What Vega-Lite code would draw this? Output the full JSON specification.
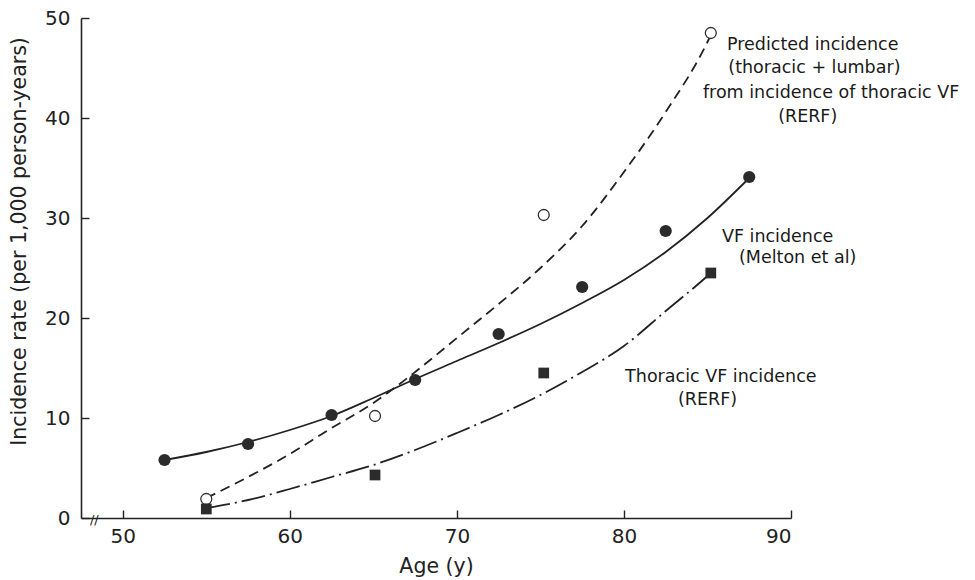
{
  "$schema": "https://vega.github.io/schema/vega-lite/v6.json",
  "autosize": "none",
  "width": 710,
  "height": 500,
  "padding": {"left": 81, "top": 18, "right": 184, "bottom": 62},
  "background": "white",
  "config": {
    "view": {"stroke": null},
    "font": "DejaVu Sans",
    "axis": {
      "grid": false,
      "domainColor": "#222",
      "domainWidth": 1.6,
      "tickColor": "#222",
      "tickWidth": 1.4,
      "tickSize": -8,
      "labelColor": "#222",
      "labelFont": "DejaVu Sans",
      "labelFontSize": 20,
      "titleColor": "#222",
      "titleFont": "DejaVu Sans",
      "titleFontSize": 20.5,
      "titleFontWeight": "normal"
    }
  },
  "datasets": {
    "points": [
      {"series": "melton", "x": 52.5, "y": 5.8},
      {"series": "melton", "x": 57.5, "y": 7.4},
      {"series": "melton", "x": 62.5, "y": 10.3},
      {"series": "melton", "x": 67.5, "y": 13.8},
      {"series": "melton", "x": 72.5, "y": 18.4},
      {"series": "melton", "x": 77.5, "y": 23.1},
      {"series": "melton", "x": 82.5, "y": 28.7},
      {"series": "melton", "x": 87.5, "y": 34.1},
      {"series": "predicted", "x": 55.0, "y": 1.9},
      {"series": "predicted", "x": 65.1, "y": 10.2},
      {"series": "predicted", "x": 75.2, "y": 30.3},
      {"series": "predicted", "x": 85.2, "y": 48.5},
      {"series": "thoracic", "x": 55.0, "y": 0.9},
      {"series": "thoracic", "x": 65.1, "y": 4.3},
      {"series": "thoracic", "x": 75.2, "y": 14.5},
      {"series": "thoracic", "x": 85.2, "y": 24.5}
    ],
    "curves": [
      {"series": "melton", "x": 52.5, "y": 5.8},
      {"series": "melton", "x": 55, "y": 6.6},
      {"series": "melton", "x": 57.5, "y": 7.6},
      {"series": "melton", "x": 60, "y": 8.8},
      {"series": "melton", "x": 62.5, "y": 10.2},
      {"series": "melton", "x": 65, "y": 12.0},
      {"series": "melton", "x": 67.5, "y": 13.9},
      {"series": "melton", "x": 70, "y": 15.7},
      {"series": "melton", "x": 72.5, "y": 17.5},
      {"series": "melton", "x": 75, "y": 19.4},
      {"series": "melton", "x": 77.5, "y": 21.5},
      {"series": "melton", "x": 80, "y": 23.8},
      {"series": "melton", "x": 82.5, "y": 26.6},
      {"series": "melton", "x": 85, "y": 30.0},
      {"series": "melton", "x": 87.5, "y": 34.0},
      {"series": "predicted", "x": 55, "y": 2.0},
      {"series": "predicted", "x": 57.5, "y": 4.1},
      {"series": "predicted", "x": 60, "y": 6.4},
      {"series": "predicted", "x": 62.5, "y": 9.0},
      {"series": "predicted", "x": 65, "y": 11.5},
      {"series": "predicted", "x": 67.5, "y": 14.6},
      {"series": "predicted", "x": 70, "y": 18.0},
      {"series": "predicted", "x": 72.5, "y": 21.4},
      {"series": "predicted", "x": 75, "y": 25.0},
      {"series": "predicted", "x": 77.5, "y": 29.2},
      {"series": "predicted", "x": 80, "y": 34.6},
      {"series": "predicted", "x": 82.5, "y": 40.6},
      {"series": "predicted", "x": 85, "y": 47.6},
      {"series": "predicted", "x": 85.2, "y": 48.3},
      {"series": "thoracic", "x": 55, "y": 1.0},
      {"series": "thoracic", "x": 57.5, "y": 1.8},
      {"series": "thoracic", "x": 60, "y": 2.9},
      {"series": "thoracic", "x": 62.5, "y": 4.1},
      {"series": "thoracic", "x": 65, "y": 5.3},
      {"series": "thoracic", "x": 67.5, "y": 6.8},
      {"series": "thoracic", "x": 70, "y": 8.5},
      {"series": "thoracic", "x": 72.5, "y": 10.3},
      {"series": "thoracic", "x": 75, "y": 12.3},
      {"series": "thoracic", "x": 77.5, "y": 14.6},
      {"series": "thoracic", "x": 80, "y": 17.2},
      {"series": "thoracic", "x": 82.5, "y": 20.7},
      {"series": "thoracic", "x": 85, "y": 24.2},
      {"series": "thoracic", "x": 85.2, "y": 24.5}
    ],
    "labels": [
      {"x": 91.3, "y": 47.3, "text": "Predicted incidence"},
      {"x": 91.4, "y": 45.0, "text": "(thoracic + lumbar)"},
      {"x": 92.4, "y": 42.5, "text": "from incidence of thoracic VF"},
      {"x": 91.0, "y": 40.1, "text": "(RERF)"},
      {"x": 89.2, "y": 28.1, "text": "VF incidence"},
      {"x": 90.4, "y": 26.0, "text": "(Melton et al)"},
      {"x": 85.8, "y": 14.1, "text": "Thoracic VF incidence"},
      {"x": 85.0, "y": 11.8, "text": "(RERF)"}
    ],
    "brk": [{"x": 48.3, "y": 0, "text": "//"}]
  },
  "layer": [
    {
      "data": {"name": "curves"},
      "transform": [{"filter": "datum.series === 'melton'"}],
      "mark": {"type": "line", "color": "#222", "strokeWidth": 1.8, "interpolate": "monotone"},
      "encoding": {
        "x": {"field": "x", "type": "quantitative", "scale": {"domain": [47.5, 90], "nice": false, "zero": false},
              "axis": {"values": [50, 60, 70, 80, 90], "title": "Age (y)", "labelPadding": 16, "titlePadding": 10}},
        "y": {"field": "y", "type": "quantitative", "scale": {"domain": [0, 50], "nice": false},
              "axis": {"values": [0, 10, 20, 30, 40, 50], "title": "Incidence rate (per 1,000 person-years)", "labelPadding": 19, "titleX": -62, "titleY": 223, "titleBaseline": "middle"}},
        "order": {"field": "x", "type": "quantitative"}
      }
    },
    {
      "data": {"name": "curves"},
      "transform": [{"filter": "datum.series === 'predicted'"}],
      "mark": {"type": "line", "color": "#222", "strokeWidth": 1.8, "strokeDash": [10, 6], "interpolate": "monotone"},
      "encoding": {
        "x": {"field": "x", "type": "quantitative"},
        "y": {"field": "y", "type": "quantitative"},
        "order": {"field": "x", "type": "quantitative"}
      }
    },
    {
      "data": {"name": "curves"},
      "transform": [{"filter": "datum.series === 'thoracic'"}],
      "mark": {"type": "line", "color": "#222", "strokeWidth": 1.8, "strokeDash": [24, 5, 2, 5], "interpolate": "monotone"},
      "encoding": {
        "x": {"field": "x", "type": "quantitative"},
        "y": {"field": "y", "type": "quantitative"},
        "order": {"field": "x", "type": "quantitative"}
      }
    },
    {
      "data": {"name": "points"},
      "transform": [{"filter": "datum.series === 'melton'"}],
      "mark": {"type": "point", "shape": "circle", "filled": true, "color": "#2b2b2b", "size": 150, "opacity": 1},
      "encoding": {
        "x": {"field": "x", "type": "quantitative"},
        "y": {"field": "y", "type": "quantitative"}
      }
    },
    {
      "data": {"name": "points"},
      "transform": [{"filter": "datum.series === 'predicted'"}],
      "mark": {"type": "point", "shape": "circle", "filled": true, "fill": "white", "stroke": "#333", "strokeWidth": 1.3, "size": 120, "opacity": 1},
      "encoding": {
        "x": {"field": "x", "type": "quantitative"},
        "y": {"field": "y", "type": "quantitative"}
      }
    },
    {
      "data": {"name": "points"},
      "transform": [{"filter": "datum.series === 'thoracic'"}],
      "mark": {"type": "point", "shape": "square", "filled": true, "color": "#2b2b2b", "size": 115, "opacity": 1},
      "encoding": {
        "x": {"field": "x", "type": "quantitative"},
        "y": {"field": "y", "type": "quantitative"}
      }
    },
    {
      "data": {"name": "labels"},
      "mark": {"type": "text", "font": "DejaVu Sans", "fontSize": 17.5, "color": "#1a1a1a", "align": "center", "baseline": "middle"},
      "encoding": {
        "x": {"field": "x", "type": "quantitative"},
        "y": {"field": "y", "type": "quantitative"},
        "text": {"field": "text"}
      }
    },
    {
      "data": {"name": "brk"},
      "mark": {"type": "text", "font": "DejaVu Sans", "fontSize": 13, "color": "#222", "align": "center", "baseline": "middle", "dy": 2},
      "encoding": {
        "x": {"field": "x", "type": "quantitative"},
        "y": {"field": "y", "type": "quantitative"},
        "text": {"field": "text"}
      }
    }
  ]
}
